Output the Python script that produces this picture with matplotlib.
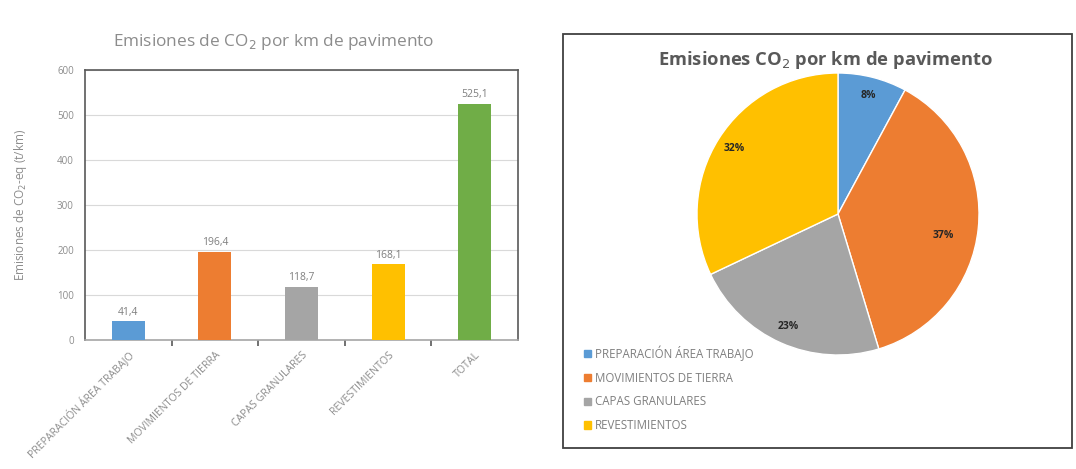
#!/usr/bin/env python3
"""
CO2 emissions per km of pavement: bar chart by stage plus pie of shares.
"""

import matplotlib.pyplot as plt
from matplotlib.patches import Rectangle

categories = ["PREPARACIÓN ÁREA TRABAJO", "MOVIMIENTOS DE TIERRA",
              "CAPAS GRANULARES", "REVESTIMIENTOS", "TOTAL"]
emissions = [41.4, 196.4, 118.7, 168.1, 525.1]
bar_colors = ["#5B9BD5", "#ED7D31", "#A5A5A5", "#FFC000", "#70AD47"]

pie_labels = categories[:4]
pie_values = emissions[:4]

plt.rcParams["font.family"] = ["Open Sans", "DejaVu Sans"]
W, H = 1076, 469
fig = plt.figure(figsize=(W / 100, H / 100), dpi=100)

# bar chart (left)
ax = fig.add_axes([85 / W, (H - 340) / H, (518 - 85) / W, (340 - 70) / H])
x = range(len(categories))
ax.bar(x, emissions, width=0.38, color=bar_colors, zorder=3)
for xi, v in zip(x, emissions):
    ax.text(xi, v + 8, f"{v:.1f}".replace(".", ","), ha="center", va="bottom",
            fontsize=7.5, color="#7f7f7f")
ax.set_ylim(0, 600)
ax.set_xlim(-0.5, 4.5)
ax.set_yticks(range(0, 601, 100))
ax.tick_params(axis="y", labelsize=7, labelcolor="#8c8c8c", length=0, pad=8)
ax.set_xticks(list(x))
ax.set_xticklabels(categories, rotation=45, ha="right", rotation_mode="anchor",
                   fontsize=7.6, color="#8c8c8c")
ax.tick_params(axis="x", length=0, pad=7)
# small ticks between categories
ax.set_xticks([i + 0.5 for i in range(4)], minor=True)
ax.tick_params(axis="x", which="minor", length=4, color="#595959", width=1.2)
ax.grid(axis="y", color="#d9d9d9", linewidth=0.8, zorder=0)
for s in ax.spines.values():
    s.set_color("#595959")
    s.set_linewidth(1.2)
ax.spines["bottom"].set_color("#a6a6a6")
ax.set_ylabel("Emisiones de CO$_2$-eq (t/km)", fontsize=8.5, color="#8c8c8c",
              labelpad=20)
fig.text(274 / W, 1 - 42 / H, "Emisiones de CO$_2$ por km de pavimento",
         ha="center", va="center", fontsize=12.4, color="#8c8c8c")

# pie chart (right)
fig.patches.append(Rectangle((563 / W, (H - 448) / H), (1072 - 563) / W,
                             (448 - 34) / H, transform=fig.transFigure,
                             fill=False, edgecolor="#404040", linewidth=1.3))
fig.text(825 / W, 1 - 60 / H, "Emisiones CO$_2$ por km de pavimento",
         ha="center", va="center", fontsize=13.2, fontweight="bold",
         color="#595959")
r = 141
pax = fig.add_axes([(838 - r) / W, (H - 214 - r) / H, 2 * r / W, 2 * r / H])
wedges, _, autotexts = pax.pie(
    pie_values, colors=bar_colors[:4], startangle=90, counterclock=False,
    autopct="%1.0f%%", pctdistance=0.87,
    wedgeprops=dict(edgecolor="white", linewidth=1.0),
    textprops=dict(fontsize=7.5, fontweight="bold", color="#262626"))
autotexts[1].set_position((0.75, -0.15))
pax.set_xlim(-1, 1)
pax.set_ylim(-1, 1)
pax.set_aspect("equal")

handles = [Rectangle((0, 0), 1, 1, color=c) for c in bar_colors[:4]]
fig.legend(handles, pie_labels, loc="upper left",
           bbox_to_anchor=(574 / W, 1 - 335 / H), frameon=False,
           fontsize=8.3, labelcolor="#7f7f7f", handlelength=0.6,
           handleheight=0.6, handletextpad=0.3, labelspacing=0.93)

fig.savefig("out.png", dpi=100)
